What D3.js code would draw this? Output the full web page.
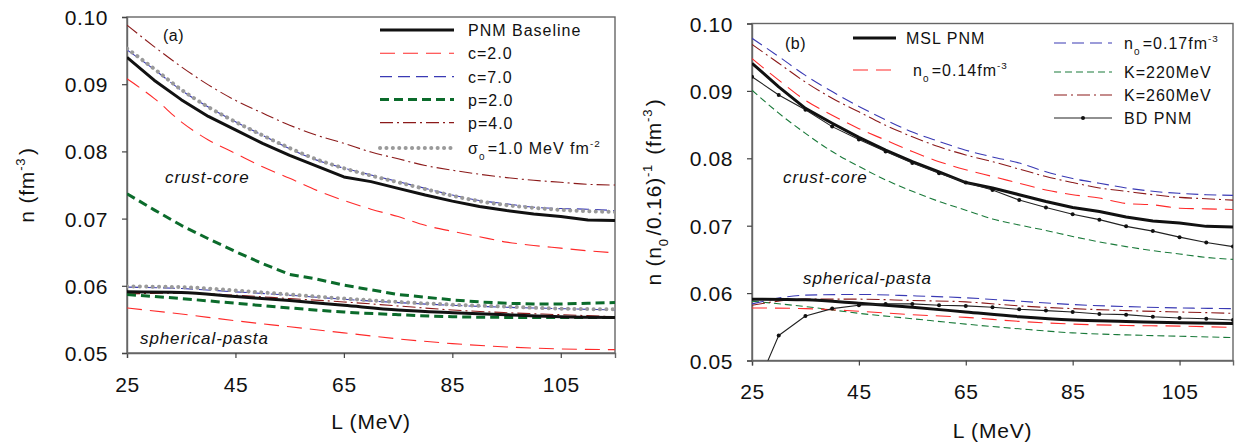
<!DOCTYPE html>
<html><head><meta charset="utf-8">
<script src="https://cdn.jsdelivr.net/npm/d3@7"></script>
<style>
body{margin:0;background:#fff;}
svg text{font-family:"Liberation Sans",Arial,sans-serif;fill:#111;}
</style></head>
<body><svg id="c" width="1236" height="443"></svg>
<script>
// ---------- DATA ----------
const L5 = [25,30,35,40,45,50,55,60,65,70,75,80,85,90,95,100,105,110,115];
const L10 = [25,35,45,55,65,75,85,95,105,115];
const xTicks = [25,45,65,85,105];
const yTicks = [0.05,0.06,0.07,0.08,0.09,0.10];

// panel (a): crust-core
const pnmA_cc  = [0.0940,0.0906,0.0877,0.0852,0.0832,0.0812,0.0794,0.0778,0.0762,0.0755,0.0745,0.0735,0.0726,0.0718,0.0712,0.0707,0.0703,0.0698,0.0697];
const c7_cc    = [0.0951,0.0922,0.0891,0.0866,0.0844,0.0824,0.0804,0.0787,0.0775,0.0765,0.0755,0.0745,0.0735,0.0727,0.0722,0.0717,0.0715,0.0714,0.0712];
const sigma_cc = [0.0953,0.0923,0.0892,0.0866,0.0844,0.0824,0.0805,0.0788,0.0775,0.0764,0.0754,0.0744,0.0734,0.0726,0.0720,0.0716,0.0713,0.0711,0.0710];
const p4_cc    = [0.0988,0.0956,0.0926,0.0899,0.0876,0.0857,0.0839,0.0824,0.0812,0.0799,0.0789,0.0779,0.0772,0.0766,0.0761,0.0757,0.0754,0.0751,0.0750];
const c2_cc    = [0.0908,0.0879,0.0844,0.0817,0.0797,0.0777,0.0760,0.0742,0.0727,0.0714,0.0703,0.0690,0.0681,0.0673,0.0665,0.0660,0.0656,0.0652,0.0649];
const p2_cc    = [0.0737,0.0713,0.0690,0.0670,0.0651,0.0633,0.0617,0.0610,0.0601,0.0594,0.0587,0.0583,0.0579,0.0576,0.0574,0.0573,0.0573,0.0574,0.0575];
// panel (a): spherical-pasta
const pnmA_sp  = [0.0591,0.0590,0.0584,0.0578,0.0571,0.0564,0.0560,0.0557,0.0554,0.0553];
const c7_sp    = [0.0598,0.0596,0.0591,0.0586,0.0580,0.0575,0.0571,0.0568,0.0566,0.0564];
const sigma_sp = [0.0599,0.0598,0.0593,0.0587,0.0581,0.0576,0.0572,0.0569,0.0566,0.0565];
const p4_sp    = [0.0588,0.0589,0.0586,0.0581,0.0576,0.0570,0.0564,0.0560,0.0557,0.0554];
const p2_sp    = [0.0587,0.0581,0.0574,0.0567,0.0561,0.0557,0.0554,0.0553,0.0553,0.0553];
const c2_sp    = [0.0567,0.0558,0.0548,0.0539,0.0530,0.0521,0.0514,0.0509,0.0506,0.0505];

// panel (b): crust-core
const msl_cc  = [0.0941,0.0906,0.0874,0.0852,0.0831,0.0812,0.0795,0.0780,0.0764,0.0756,0.0746,0.0736,0.0727,0.0721,0.0713,0.0707,0.0704,0.0699,0.0698];
const n014_cc = [0.0948,0.0916,0.0886,0.0864,0.0844,0.0827,0.0810,0.0795,0.0783,0.0773,0.0763,0.0753,0.0746,0.0741,0.0733,0.0731,0.0726,0.0725,0.0724];
const n017_cc = [0.0978,0.0951,0.0923,0.0899,0.0877,0.0857,0.0839,0.0825,0.0812,0.0802,0.0793,0.0780,0.0770,0.0763,0.0756,0.0751,0.0748,0.0746,0.0745];
const k220_cc = [0.0901,0.0867,0.0837,0.0810,0.0788,0.0768,0.0751,0.0736,0.0723,0.0710,0.0701,0.0693,0.0684,0.0676,0.0669,0.0663,0.0658,0.0653,0.0650];
const k260_cc = [0.0969,0.0941,0.0913,0.0889,0.0869,0.0849,0.0832,0.0817,0.0805,0.0795,0.0784,0.0773,0.0764,0.0756,0.0751,0.0746,0.0742,0.0740,0.0738];
const bd_cc   = [0.0921,0.0894,0.0872,0.0847,0.0828,0.0810,0.0793,0.0778,0.0764,0.0753,0.0738,0.0727,0.0717,0.0709,0.0699,0.0692,0.0683,0.0675,0.0669];
// panel (b): spherical-pasta
const msl_sp  = [0.0591,0.0590,0.0585,0.0579,0.0572,0.0565,0.0560,0.0558,0.0556,0.0555];
const n014_sp = [0.0578,0.0577,0.0573,0.0568,0.0564,0.0558,0.0554,0.0552,0.0551,0.0549];
const n017_sp = [0.0584,0.0597,0.0598,0.0596,0.0593,0.0588,0.0583,0.0580,0.0578,0.0577];
const k220_sp = [0.0588,0.0580,0.0570,0.0562,0.0554,0.0547,0.0541,0.0538,0.0536,0.0534];
const k260_sp = [0.0582,0.0591,0.0591,0.0589,0.0587,0.0581,0.0577,0.0574,0.0572,0.0570];
const bd_sp   = [0.0445,0.0537,0.0566,0.0577,0.0582,0.0584,0.0584,0.0582,0.0581,0.0579,0.0576,0.0574,0.0572,0.0569,0.0568,0.0565,0.0563,0.0562,0.0560];

// ---------- STYLES ----------
const ST = {
  black:{stroke:"#111",w:3,dash:null},
  red:{stroke:"#ff2a2a",w:1.1,dash:"15,8"},
  blue:{stroke:"#3a3ab4",w:1.1,dash:"12,6"},
  green:{stroke:"#0b6b2b",w:3,dash:"9,5"},
  greenThin:{stroke:"#1a7a3a",w:1.1,dash:"7,4"},
  dred:{stroke:"#8b1a1a",w:1.1,dash:"13,4,2,4"},
  grey:{stroke:"#9a9a9a",w:4,dash:"0.1,6.3",cap:"round"},
  bd:{stroke:"#222",w:1.1,dash:null}
};

const svg = d3.select("#c");
const FONT = '"Liberation Sans",Arial,sans-serif';

function panel(o){
  const x = d3.scaleLinear().domain([25,115]).range([o.x0,o.x1]);
  const y = d3.scaleLinear().domain([0.05,0.10]).range([o.y1,o.y0]);
  const g = svg.append("g");
  const cid = "clip"+o.id;
  svg.append("clipPath").attr("id",cid).append("rect")
     .attr("x",o.x0).attr("y",o.y0).attr("width",o.x1-o.x0).attr("height",o.y1-o.y0);

  // frame
  g.append("rect").attr("x",o.x0).attr("y",o.y0).attr("width",o.x1-o.x0).attr("height",o.y1-o.y0)
   .attr("fill","none").attr("stroke","#666").attr("stroke-width",1.4);

  // axes
  const ax = g.append("g").attr("transform",`translate(0,${o.y1})`)
    .call(d3.axisBottom(x).tickValues(xTicks).tickSize(5).tickPadding(19).tickFormat(d3.format("d")));
  const ay = g.append("g").attr("transform",`translate(${o.x0},0)`)
    .call(d3.axisLeft(y).tickValues(yTicks).tickSize(5).tickPadding(14).tickFormat(d3.format(".2f")));
  [ax,ay].forEach(a=>{
    a.select(".domain").attr("stroke","#666").attr("stroke-width",1.4);
    a.selectAll(".tick line").attr("stroke","#444").attr("stroke-width",1.2);
    a.selectAll(".tick text").attr("font-size",21).attr("font-family",FONT).attr("fill","#111").attr("letter-spacing",0.6);
  });
  ay.selectAll(".tick text").attr("dy","0.36em");

  const plot = g.append("g").attr("clip-path",`url(#${cid})`);
  o.series.forEach(s=>{
    const st = ST[s.style];
    const pts = s.xs.map((l,i)=>[l,s.ys[i]]);
    const line = d3.line().x(d=>x(d[0])).y(d=>y(d[1])).curve(s.linear?d3.curveLinear:d3.curveMonotoneX);
    plot.append("path").attr("d",line(pts)).attr("fill","none")
      .attr("stroke",st.stroke).attr("stroke-width",st.w)
      .attr("stroke-dasharray",st.dash).attr("stroke-linecap",st.cap||"butt")
      .attr("stroke-linejoin","round");
    if(s.markers){
      plot.selectAll(null).data(pts.filter(d=>d[1]>=0.05)).enter().append("circle")
        .attr("cx",d=>x(d[0])).attr("cy",d=>y(d[1])).attr("r",2).attr("fill","#111");
    }
  });

  // annotations
  o.notes.forEach(n=>{
    g.append("text").attr("x",n.x).attr("y",n.y).attr("font-size",n.size||17)
     .attr("font-style",n.italic?"italic":null).attr("letter-spacing",n.ls||0.9).text(n.t);
  });

  // x title
  g.append("text").attr("x",(o.x0+o.x1)/2).attr("y",o.xTitleY).attr("text-anchor","middle")
   .attr("font-size",21).attr("letter-spacing",0.8).text("L (MeV)");
  return {x,y,g};
}

function legendItem(g, x1, x2, yy, styleKey, marker){
  const st = ST[styleKey];
  g.append("line").attr("x1",x1).attr("x2",x2).attr("y1",yy).attr("y2",yy)
   .attr("stroke",st.stroke).attr("stroke-width",st.w).attr("stroke-dasharray",st.dash)
   .attr("stroke-linecap",st.cap||"butt");
  if(marker) g.append("circle").attr("cx",(x1+x2)/2).attr("cy",yy).attr("r",2).attr("fill","#111");
}
function richText(g, x, y, parts, size, ls){
  const t = g.append("text").attr("x",x).attr("y",y).attr("font-size",size).attr("letter-spacing",ls);
  parts.forEach(p=>{
    if(typeof p==="string"){ t.append("tspan").text(p); }
    else {
      const dy = p.sub ? 0.35*size : -0.45*size;
      t.append("tspan").attr("dy",dy).attr("font-size",size*0.62).text(p.t);
      t.append("tspan").attr("dy",-dy).attr("font-size",size).text("\u200A");
    }
  });
  return t;
}

// ---------- PANEL A ----------
const A = panel({id:"a",x0:127,x1:615,y0:17,y1:353,xTitleY:429,
  series:[
    {xs:L5,ys:c2_cc,style:"red"},{xs:L10,ys:c2_sp,style:"red"},
    {xs:L5,ys:p4_cc,style:"dred"},{xs:L10,ys:p4_sp,style:"dred"},
    {xs:L5,ys:p2_cc,style:"green",linear:true},{xs:L10,ys:p2_sp,style:"green"},
    {xs:L5,ys:pnmA_cc,style:"black",linear:true},{xs:L10,ys:pnmA_sp,style:"black"},
    {xs:L5,ys:c7_cc,style:"blue"},{xs:L10,ys:c7_sp,style:"blue"},
    {xs:L5,ys:sigma_cc,style:"grey"},{xs:L10,ys:sigma_sp,style:"grey"}
  ],
  notes:[
    {x:163,y:41,t:"(a)",size:16,ls:0.5},
    {x:165,y:183,t:"crust-core",italic:true},
    {x:140,y:344,t:"spherical-pasta",italic:true}
  ]});
// y title A
richText(svg.append("g").attr("transform","translate(34,185) rotate(-90)"),0,0,
  ["n (fm",{t:"-3"},")"],21,0.8).attr("text-anchor","middle");

// legend A
const la = svg.append("g");
const laRows = [
  {s:"black",p:["PNM Baseline"],y:30},
  {s:"red",p:["c=2.0"],y:53.3},
  {s:"blue",p:["c=7.0"],y:76.6},
  {s:"green",p:["p=2.0"],y:99.6},
  {s:"dred",p:["p=4.0"],y:122.6},
  {s:"grey",p:["\u03C3",{t:"0",sub:true},"=1.0 MeV fm",{t:"-2"}],y:148}
];
laRows.forEach(r=>{
  legendItem(la,380,454,r.y,r.s);
  richText(la,468,r.y+6,r.p,16,1.0);
});

// ---------- PANEL B ----------
const B = panel({id:"b",x0:752,x1:1233,y0:23.5,y1:360.5,xTitleY:438,
  series:[
    {xs:L5,ys:k220_cc,style:"greenThin"},{xs:L10,ys:k220_sp,style:"greenThin"},
    {xs:L5,ys:n014_cc,style:"red"},{xs:L10,ys:n014_sp,style:"red"},
    {xs:L5,ys:k260_cc,style:"dred"},{xs:L10,ys:k260_sp,style:"dred"},
    {xs:L5,ys:n017_cc,style:"blue"},{xs:L10,ys:n017_sp,style:"blue"},
    {xs:L5,ys:msl_cc,style:"black",linear:true},{xs:L10,ys:msl_sp,style:"black"},
    {xs:L5,ys:bd_cc,style:"bd",linear:true,markers:true},{xs:L5,ys:bd_sp,style:"bd",linear:true,markers:true}
  ],
  notes:[
    {x:785,y:49,t:"(b)",size:16,ls:0.5},
    {x:783,y:183,t:"crust-core",italic:true},
    {x:803,y:284,t:"spherical-pasta",italic:true}
  ]});
richText(svg.append("g").attr("transform","translate(661,192) rotate(-90)"),0,0,
  ["n (n",{t:"0",sub:true},"/0.16)",{t:"-1"}," (fm",{t:"-3"},")"],21,0.8).attr("text-anchor","middle");

const lb = svg.append("g");
legendItem(lb,853,896,38,"black");
richText(lb,906,44,["MSL PNM"],16,1.0);
legendItem(lb,853,896,70,"red");
richText(lb,913,76,["n",{t:"0",sub:true},"=0.14fm",{t:"-3"}],16,1.0);
legendItem(lb,1054,1112,43,"blue");
richText(lb,1124,49,["n",{t:"0",sub:true},"=0.17fm",{t:"-3"}],16,1.0);
legendItem(lb,1054,1112,72,"greenThin");
richText(lb,1124,78,["K=220MeV"],16,1.0);
legendItem(lb,1054,1112,95,"dred");
richText(lb,1124,101,["K=260MeV"],16,1.0);
legendItem(lb,1054,1112,118,"bd",true);
richText(lb,1124,124,["BD PNM"],16,1.0);
</script></body></html>
